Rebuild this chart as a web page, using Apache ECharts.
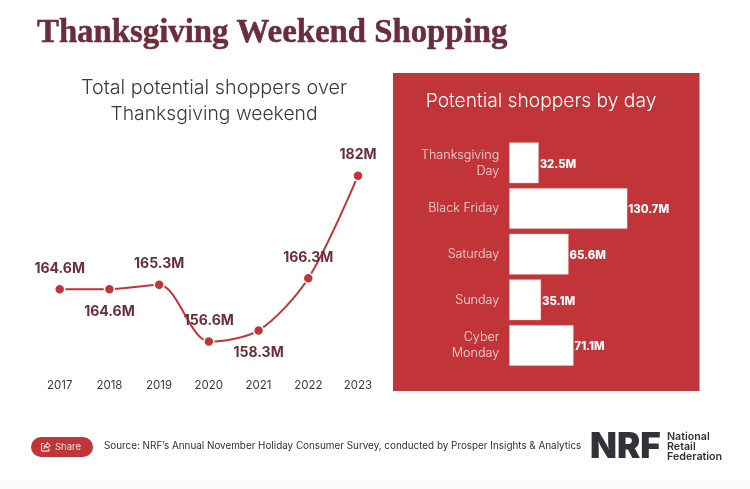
<!DOCTYPE html>
<html>
<head>
<meta charset="utf-8">
<style>html,body{margin:0;padding:0;background:#fff}#c{width:750px;height:489px}</style>
<script src="https://cdn.jsdelivr.net/npm/echarts@6/dist/echarts.min.js"></script>
</head>
<body>
<div id="c"></div>
<script>
var years = ['2017','2018','2019','2020','2021','2022','2023'];
var totals = [164.6,164.6,165.3,156.6,158.3,166.3,182];
var totalLabels = ['164.6M','164.6M','165.3M','156.6M','158.3M','166.3M','182M'];
var labelSides = ['top','bottom','top','top','bottom','top','top'];
var days = ['Thanksgiving\nDay','Black Friday','Saturday','Sunday','Cyber\nMonday'];
var dayValues = [32.5,130.7,65.6,35.1,71.1];
var dayLabels = ['32.5M','130.7M','65.6M','35.1M','71.1M'];

var RED = '#c13538', WINE = '#6b2c3b', INK = '#3a3a3c', F = 'Inter, "Open Sans", sans-serif';
var chart = echarts.init(document.getElementById('c'), null, {renderer:'canvas'});
chart.setOption({
  animation:false,
  backgroundColor:'#fff',
  textStyle:{fontFamily:F},
  title:[
    {text:'Thanksgiving Weekend Shopping',left:32,top:12,textStyle:{fontFamily:'"Liberation Serif",serif',fontSize:32.8,fontWeight:'bold',color:WINE,textBorderColor:WINE,textBorderWidth:0.5}},
    {text:'Total potential shoppers over',left:209,top:73,textAlign:'center',textStyle:{fontFamily:F,fontSize:19.8,fontWeight:300,color:INK}},
    {text:'Thanksgiving weekend',left:209,top:100,textAlign:'center',textStyle:{fontFamily:F,fontSize:19.3,fontWeight:300,color:INK}},
    {text:'Potential shoppers by day',left:536,top:87,textAlign:'center',textStyle:{fontFamily:F,fontSize:19.2,fontWeight:300,color:'#fff'}}
  ],
  graphic:[
    {type:'rect',z:0,shape:{x:0,y:481,width:750,height:8},style:{fill:'#fafafa'}},
    {type:'rect',z:0,shape:{x:393,y:73,width:306.5,height:318},style:{fill:RED}},
    {type:'rect',z:1,shape:{x:31,y:437,width:62,height:20,r:10},style:{fill:RED}},
    {type:'polyline',z:2,shape:{points:[[44,443.5],[41.5,443.5],[41.5,451],[49,451],[49,448.5]]},style:{fill:null,stroke:'#fff',lineWidth:1}},
    {type:'polyline',z:2,shape:{points:[[44,449],[44.5,445.5],[47,444.5],[47,442.5],[50.5,445.5],[47,448],[47,446.5],[45,447]]},style:{fill:null,stroke:'#fff',lineWidth:1}},
    {type:'text',z:2,x:55,y:447,style:{text:'Share',fill:'#f8e6e6',font:'9.5px '+F,textVerticalAlign:'middle'}},
    {type:'text',z:2,x:104,y:446,style:{text:'Source: NRF\u2019s Annual November Holiday Consumer Survey, conducted by Prosper Insights & Analytics',fill:'#2f2f33',font:'9.87px '+F,textVerticalAlign:'middle'}},
    {type:'text',z:2,x:590,y:447,style:{text:'NRF',fill:'#32323a',font:'900 35px Inter, sans-serif',textVerticalAlign:'middle'}},
    {type:'text',z:2,x:667,y:437,style:{text:'National',fill:'#32323a',font:'600 10.7px '+F,textVerticalAlign:'middle'}},
    {type:'text',z:2,x:667,y:447,style:{text:'Retail',fill:'#32323a',font:'600 10.7px '+F,textVerticalAlign:'middle'}},
    {type:'text',z:2,x:667,y:456.5,style:{text:'Federation',fill:'#32323a',font:'600 10.7px '+F,textVerticalAlign:'middle'}}
  ],
  grid:[
    {left:34.85,top:162.6,width:348,height:209},
    {left:509.3,top:140,width:126.4,height:228.3}
  ],
  xAxis:[
    {type:'category',gridIndex:0,data:years,axisLine:{show:false},axisTick:{show:false},splitLine:{show:false},
      axisLabel:{color:INK,fontSize:11.5,margin:8,fontFamily:F}},
    {type:'value',gridIndex:1,min:0,max:140,show:false,splitLine:{show:false}}
  ],
  yAxis:[
    {type:'value',gridIndex:0,min:152,max:184,show:false,splitLine:{show:false}},
    {type:'category',gridIndex:1,data:days,inverse:true,axisLine:{show:false},axisTick:{show:false},splitLine:{show:false},
      axisLabel:{color:'#f6dcdc',fontSize:12.6,lineHeight:16,margin:10,padding:[4,0,0,0],fontFamily:F,fontWeight:300,align:'right'}}
  ],
  series:[
    {type:'line',xAxisIndex:0,yAxisIndex:0,smooth:0.3,z:3,
      data:totals.map(function(v,i){return {value:v,label:{position:labelSides[i],distance:labelSides[i]==='top'?8:10,formatter:totalLabels[i]}};}),
      symbol:'circle',symbolSize:10,
      lineStyle:{color:RED,width:2},
      itemStyle:{color:RED,borderColor:'#fff',borderWidth:1.5},
      label:{show:true,color:WINE,fontSize:14,fontWeight:'bold',fontFamily:F}},
    {type:'bar',xAxisIndex:1,yAxisIndex:1,barCategoryGap:'11%',z:3,
      data:dayValues.map(function(v,i){return {value:v,label:{formatter:dayLabels[i]}};}),
      itemStyle:{color:'#fff',borderColor:'#f2c9c9',borderWidth:0.5},
      label:{show:true,position:'right',distance:1,offset:[0,1.5],color:'#fff',fontSize:11.3,fontWeight:800,fontFamily:F}}
  ]
});
</script>
</body>
</html>
